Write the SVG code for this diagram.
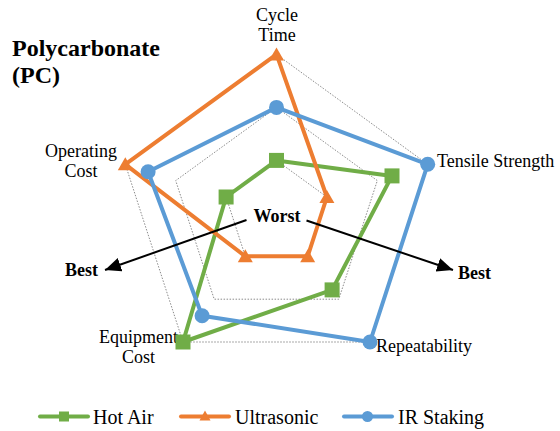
<svg xmlns="http://www.w3.org/2000/svg" width="560" height="431" viewBox="0 0 560 431">
<style>
  text { font-family: 'Liberation Serif', 'Times New Roman', Times, 'DejaVu Serif', serif; fill: #000; }
  .title { font-size: 24px; font-weight: bold; }
  .lab { font-size: 18px; }
  .bold { font-size: 18px; font-weight: bold; }
  .leg { font-size: 20px; }
  .grid { fill: none; stroke: #8c8c8c; stroke-width: 1; stroke-dasharray: 1.5 1.5; }
  .s { fill: none; stroke-width: 4; stroke-linejoin: round; stroke-linecap: round; }
  .green { stroke: #70AD47; }
  .orange { stroke: #ED7D31; }
  .blue { stroke: #5B9BD5; }
  .arrow { stroke: #000; stroke-width: 2; fill: none; marker-end: url(#ah); }
</style>
<defs>
  <marker id="ah" markerUnits="userSpaceOnUse" markerWidth="18" markerHeight="16" refX="16" refY="7" orient="auto">
    <path d="M0,0 L16,7 L0,14 Z" fill="#000"/>
  </marker>
  <rect id="sq" x="-7.5" y="-7.5" width="15" height="15" fill="#70AD47"/>
  <polygon id="tri" points="0,-7 7.5,6 -7.5,6" fill="#ED7D31"/>
  <circle id="dot" r="7.5" fill="#5B9BD5"/>
</defs>

<g id="title">
  <text class="title" x="12" y="56" font-family="Liberation Serif, serif">Polycarbonate</text>
  <text class="title" x="12" y="83" font-family="Liberation Serif, serif">(PC)</text>
</g>

<g id="grid">
  <polygon class="grid" points="276.5,54.4 427.7,164.3 370,342 183,342 125.3,164.3"/>
  <polygon class="grid" points="276.5,107.4 377.3,180.6 338.8,299.2 214.2,299.2 175.7,180.6"/>
  <polygon class="grid" points="276.5,160.4 326.9,197 307.7,256.3 245.3,256.3 226.1,197"/>
</g>

<g id="axis-labels">
  <g id="label-cycle-time">
    <text class="lab" x="277" y="21" text-anchor="middle">Cycle</text>
    <text class="lab" x="277" y="41" text-anchor="middle">Time</text>
  </g>
  <g id="label-tensile"><text class="lab" x="437" y="167">Tensile Strength</text></g>
  <g id="label-repeatability"><text class="lab" x="376" y="352">Repeatability</text></g>
  <g id="label-equipment">
    <text class="lab" x="138.5" y="343" text-anchor="middle">Equipment</text>
    <text class="lab" x="138.5" y="363" text-anchor="middle">Cost</text>
  </g>
  <g id="label-operating">
    <text class="lab" x="81" y="157" text-anchor="middle">Operating</text>
    <text class="lab" x="81" y="177" text-anchor="middle">Cost</text>
  </g>
</g>

<g id="series-hot-air">
  <polygon class="s green" points="276.5,160.4 392,175.9 332.1,289.9 183,342 226.1,197"/>
  <use href="#sq" x="276.5" y="160.4"/>
  <use href="#sq" x="392" y="175.9"/>
  <use href="#sq" x="332.1" y="289.9"/>
  <use href="#sq" x="183" y="342"/>
  <use href="#sq" x="226.1" y="197"/>
</g>

<g id="series-ultrasonic">
  <polygon class="s orange" points="276.5,54.4 326.9,197 307.7,256.3 245.3,256.3 125.3,164.3"/>
  <use href="#tri" x="276.5" y="54.4"/>
  <use href="#tri" x="326.9" y="197"/>
  <use href="#tri" x="307.7" y="256.3"/>
  <use href="#tri" x="245.3" y="256.3"/>
  <use href="#tri" x="125.3" y="164.3"/>
</g>

<g id="series-ir-staking">
  <polygon class="s blue" points="276.5,107.4 427.7,164.3 370,342 202.1,315.7 148.1,171.7"/>
  <use href="#dot" x="276.5" y="107.4"/>
  <use href="#dot" x="427.7" y="164.3"/>
  <use href="#dot" x="370" y="342"/>
  <use href="#dot" x="202.1" y="315.7"/>
  <use href="#dot" x="148.1" y="171.7"/>
</g>

<g id="connectors">
  <line class="arrow" x1="246.5" y1="220" x2="105" y2="270"/>
  <line class="arrow" x1="306.5" y1="220.5" x2="453" y2="270"/>
</g>

<g id="worst"><text class="bold" x="277" y="222" text-anchor="middle">Worst</text></g>
<g id="best-left"><text class="bold" x="65" y="276">Best</text></g>
<g id="best-right"><text class="bold" x="458" y="279">Best</text></g>

<g id="legend">
  <g id="legend-hot-air">
    <line x1="40" y1="416.5" x2="88" y2="416.5" stroke="#70AD47" stroke-width="4" stroke-linecap="round"/>
    <rect x="59" y="411.5" width="10" height="10" fill="#70AD47"/>
    <text class="leg" x="93" y="424">Hot Air</text>
  </g>
  <g id="legend-ultrasonic">
    <line x1="181" y1="416.5" x2="229" y2="416.5" stroke="#ED7D31" stroke-width="4" stroke-linecap="round"/>
    <polygon points="205,410.5 210.5,420.5 199.5,420.5" fill="#ED7D31"/>
    <text class="leg" x="235" y="424">Ultrasonic</text>
  </g>
  <g id="legend-ir-staking">
    <line x1="344" y1="416.5" x2="392" y2="416.5" stroke="#5B9BD5" stroke-width="4" stroke-linecap="round"/>
    <circle cx="367.5" cy="416.5" r="5.5" fill="#5B9BD5"/>
    <text class="leg" x="398" y="424">IR Staking</text>
  </g>
</g>
</svg>
